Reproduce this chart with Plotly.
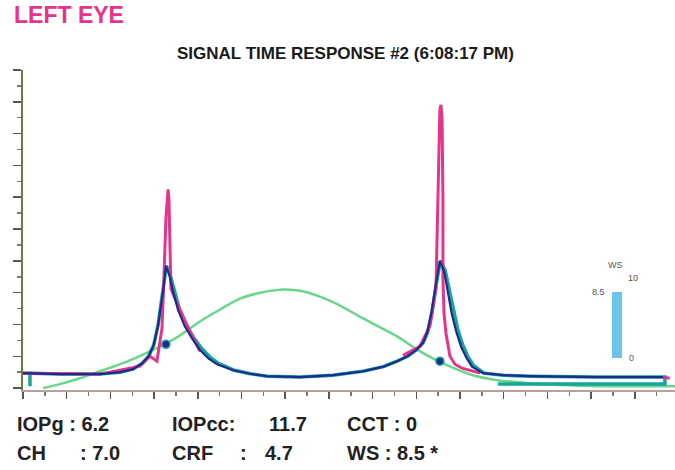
import plotly.graph_objects as go

# ---------------- data (time in ms-like units, signal in arbitrary units) ----------------
green_t = [0.92, 1.69, 2.61, 3.52, 4.67, 5.81, 6.96, 8.10, 9.02, 9.93, 10.85, 11.76, 12.22, 12.68,
           13.59, 14.51, 15.56, 17.12, 18.17, 19.40, 20.59, 21.69, 23.2, 24.58, 26.4, 29.15, 29.84]
green_v = [0.0, 0.25, 0.62, 1.06, 1.62, 2.31, 3.12, 4.19, 4.94, 5.62, 6.0, 6.19, 6.19, 6.12,
           5.75, 5.19, 4.38, 3.25, 2.31, 1.44, 0.81, 0.5, 0.31, 0.19, 0.12, 0.12, 0.12]

teal_t = [0.32, 0.32, 0.0, None, 0.32, 1.69, 3.52, 4.44, 5.03, 5.45, 5.75, 5.98, 6.18, 6.41, 6.56,
          6.72, 6.92, 7.15, 7.45, 7.8, 8.17, 8.6, 8.95, 9.68, 10.4, 11.17, 12.68, 14.19, 15.56,
          16.5, 17.12, 17.6, 18.0, 18.31, 18.52, 18.72, 18.9, 19.1, 19.32, 19.5, 19.68, 19.88,
          20.1, 20.35, 20.6, 21.1, 21.97, 23.2, 26.27, 29.38, 29.38, 21.74]
teal_v = [0.12, 0.94, 0.94, None, 0.94, 0.88, 0.88, 1.0, 1.19, 1.55, 2.0, 2.7, 3.94, 6.06, 7.69,
          7.2, 6.1, 5.0, 4.0, 3.2, 2.5, 1.9, 1.55, 1.12, 0.9, 0.75, 0.69, 0.81, 1.06,
          1.35, 1.69, 2.0, 2.4, 2.85, 3.5, 4.8, 6.4, 8.0, 7.4, 6.2, 4.9, 3.8,
          2.8, 2.0, 1.45, 0.94, 0.81, 0.75, 0.69, 0.69, 0.25, 0.25]

navy_t = [0.0, 1.69, 3.52, 4.44, 5.03, 5.45, 5.75, 5.98, 6.18, 6.41, 6.54, 6.7, 6.88, 7.1, 7.4,
          7.75, 8.1, 8.5, 8.88, 9.61, 10.4, 11.17, 12.68, 14.19, 15.56, 16.5, 17.12, 17.6, 18.0,
          18.31, 18.5, 18.7, 18.88, 19.08, 19.28, 19.45, 19.62, 19.82, 20.05, 20.3, 20.55, 21.05,
          21.97, 23.2, 26.27, 29.29]
navy_v = [0.94, 0.88, 0.88, 1.0, 1.19, 1.55, 2.0, 2.7, 3.94, 6.06, 7.69, 7.1, 6.0, 4.9, 3.9,
          3.1, 2.4, 1.85, 1.5, 1.12, 0.9, 0.75, 0.69, 0.81, 1.06, 1.35, 1.69, 2.0, 2.4,
          2.85, 3.5, 4.8, 6.4, 8.0, 7.3, 6.0, 4.7, 3.6, 2.6, 1.9, 1.35, 0.94,
          0.81, 0.75, 0.69, 0.69]

pink_t = [0.0, 3.52, 5.35, 5.81, 6.13, 6.36, 6.45, 6.54, 6.64, 6.68, 6.73, 6.77, 6.96, 7.41, 7.63,
          8.10, None, 17.39, 18.17, 18.63, 18.9, 18.99, 19.08, 19.13, 19.18, 19.22, 19.22, 19.27,
          19.36, 19.54, 19.77, 20.09, 20.92, None, 29.3, 29.6]
pink_v = [0.94, 0.88, 1.38, 2.0, 1.69, 3.75, 6.88, 10.62, 12.5, 11.88, 8.75, 6.25, 5.6, 4.19, 3.6,
          2.31, None, 2.06, 2.62, 3.94, 6.25, 11.88, 17.5, 17.81, 16.88, 11.88, 6.88, 4.69,
          3.44, 2.0, 1.5, 1.25, 0.94, None, 0.69, 0.62]

marker_t = [6.54, 19.08]
marker_v = [2.75, 1.69]

ws_value = 8.5
ws_max = 10

row1 = ["IOPg : 6.2", "IOPcc:", "11.7", "CCT : 0"]
row2 = ["CH", ": 7.0", "CRF", ":", "4.7", "WS : 8.5 *"]

# ---------------- figure ----------------
PINK = "#e8338a"
NAVY = "#1d2a8e"
TEAL = "#16a596"
GREEN = "#6ad68c"

fig = go.Figure()
fig.add_trace(go.Scatter(x=green_t, y=green_v, mode="lines",
                         line=dict(color=GREEN, width=2.5, shape="spline", smoothing=0.8)))
fig.add_trace(go.Scatter(x=teal_t, y=teal_v, mode="lines",
                         line=dict(color=TEAL, width=3.5), connectgaps=False))
fig.add_trace(go.Scatter(x=pink_t, y=pink_v, mode="lines",
                         line=dict(color=PINK, width=3), connectgaps=False))
fig.add_trace(go.Scatter(x=navy_t, y=navy_v, mode="lines",
                         line=dict(color=NAVY, width=2.2)))
fig.add_trace(go.Scatter(x=marker_t, y=marker_v, mode="markers",
                         marker=dict(color=NAVY, size=8, line=dict(color=TEAL, width=1.5))))

# WS gauge
fig.add_trace(go.Bar(x=[0], y=[ws_value], xaxis="x2", yaxis="y2", width=1,
                     marker=dict(color="#6cc4ec", line=dict(width=0))))

# layout geometry (pixels)
W, H = 675, 470
L, R, T, B = 23, 0, 70, 80
pw, ph = W - L - R, H - T - B


def px(xp):
    return (xp - L) / pw


def py(yp):
    return (H - B - yp) / ph


fig.update_layout(
    width=W, height=H,
    margin=dict(l=L, r=R, t=T, b=B),
    paper_bgcolor="white", plot_bgcolor="white",
    showlegend=False, hovermode=False,
    font=dict(family="Liberation Sans, Arial, sans-serif", color="#222"),
    xaxis=dict(range=[0, 29.84], showgrid=False, zeroline=False, showticklabels=False,
               showline=True, linecolor="#b8a0a0", linewidth=1.5,
               ticks="outside", dtick=2, tick0=0, ticklen=7, tickwidth=1.5, tickcolor="#555",
               minor=dict(ticks="outside", dtick=1, ticklen=4, tickwidth=1.5, tickcolor="#777"),
               fixedrange=True),
    yaxis=dict(range=[-0.12, 20], showgrid=False, zeroline=False, showticklabels=False,
               showline=True, linecolor="#6f7d3c", linewidth=2,
               ticks="outside", dtick=2, tick0=0, ticklen=8, tickwidth=1.5, tickcolor="#555",
               minor=dict(ticks="outside", dtick=1, ticklen=4, tickwidth=1.5, tickcolor="#777"),
               fixedrange=True),
    xaxis2=dict(domain=[px(612), px(622)], range=[-0.5, 0.5], anchor="y2", visible=False),
    yaxis2=dict(domain=[py(358), py(280)], range=[0, ws_max], anchor="x2", visible=False),
    bargap=0,
)

ann = []
# headings
ann.append(dict(text="<b>LEFT EYE</b>", x=px(12), y=py(15), xanchor="left", yanchor="middle",
                font=dict(size=23, color=PINK)))
ann.append(dict(text="<b>SIGNAL TIME RESPONSE #2 (6:08:17 PM)</b>", x=px(345), y=py(54),
                xanchor="center", yanchor="middle", font=dict(size=17, color="#1a1a1a")))
# gauge labels
gfont = dict(size=9, color="#555")
ann.append(dict(text="WS", x=px(615), y=py(265), xanchor="center", yanchor="middle", font=gfont))
ann.append(dict(text=str(ws_max), x=px(633), y=py(278), xanchor="center", yanchor="middle", font=gfont))
ann.append(dict(text=str(ws_value), x=px(598), y=py(292), xanchor="center", yanchor="middle", font=gfont))
ann.append(dict(text="0", x=px(631), y=py(358), xanchor="center", yanchor="middle", font=gfont))
# bottom readouts
bfont = dict(size=20, color="#222")
r1x = [15, 170, 267, 345]
for t, xp in zip(row1, r1x):
    ann.append(dict(text="<b>" + t + "</b>", x=px(xp), y=py(424), xanchor="left",
                    yanchor="middle", font=bfont))
r2x = [15, 78, 170, 238, 263, 345]
for t, xp in zip(row2, r2x):
    ann.append(dict(text="<b>" + t + "</b>", x=px(xp), y=py(453), xanchor="left",
                    yanchor="middle", font=bfont))

for a in ann:
    a.update(xref="paper", yref="paper", showarrow=False)
fig.update_layout(annotations=ann)

fig.write_html("out.html", config=dict(displayModeBar=False, staticPlot=True))
